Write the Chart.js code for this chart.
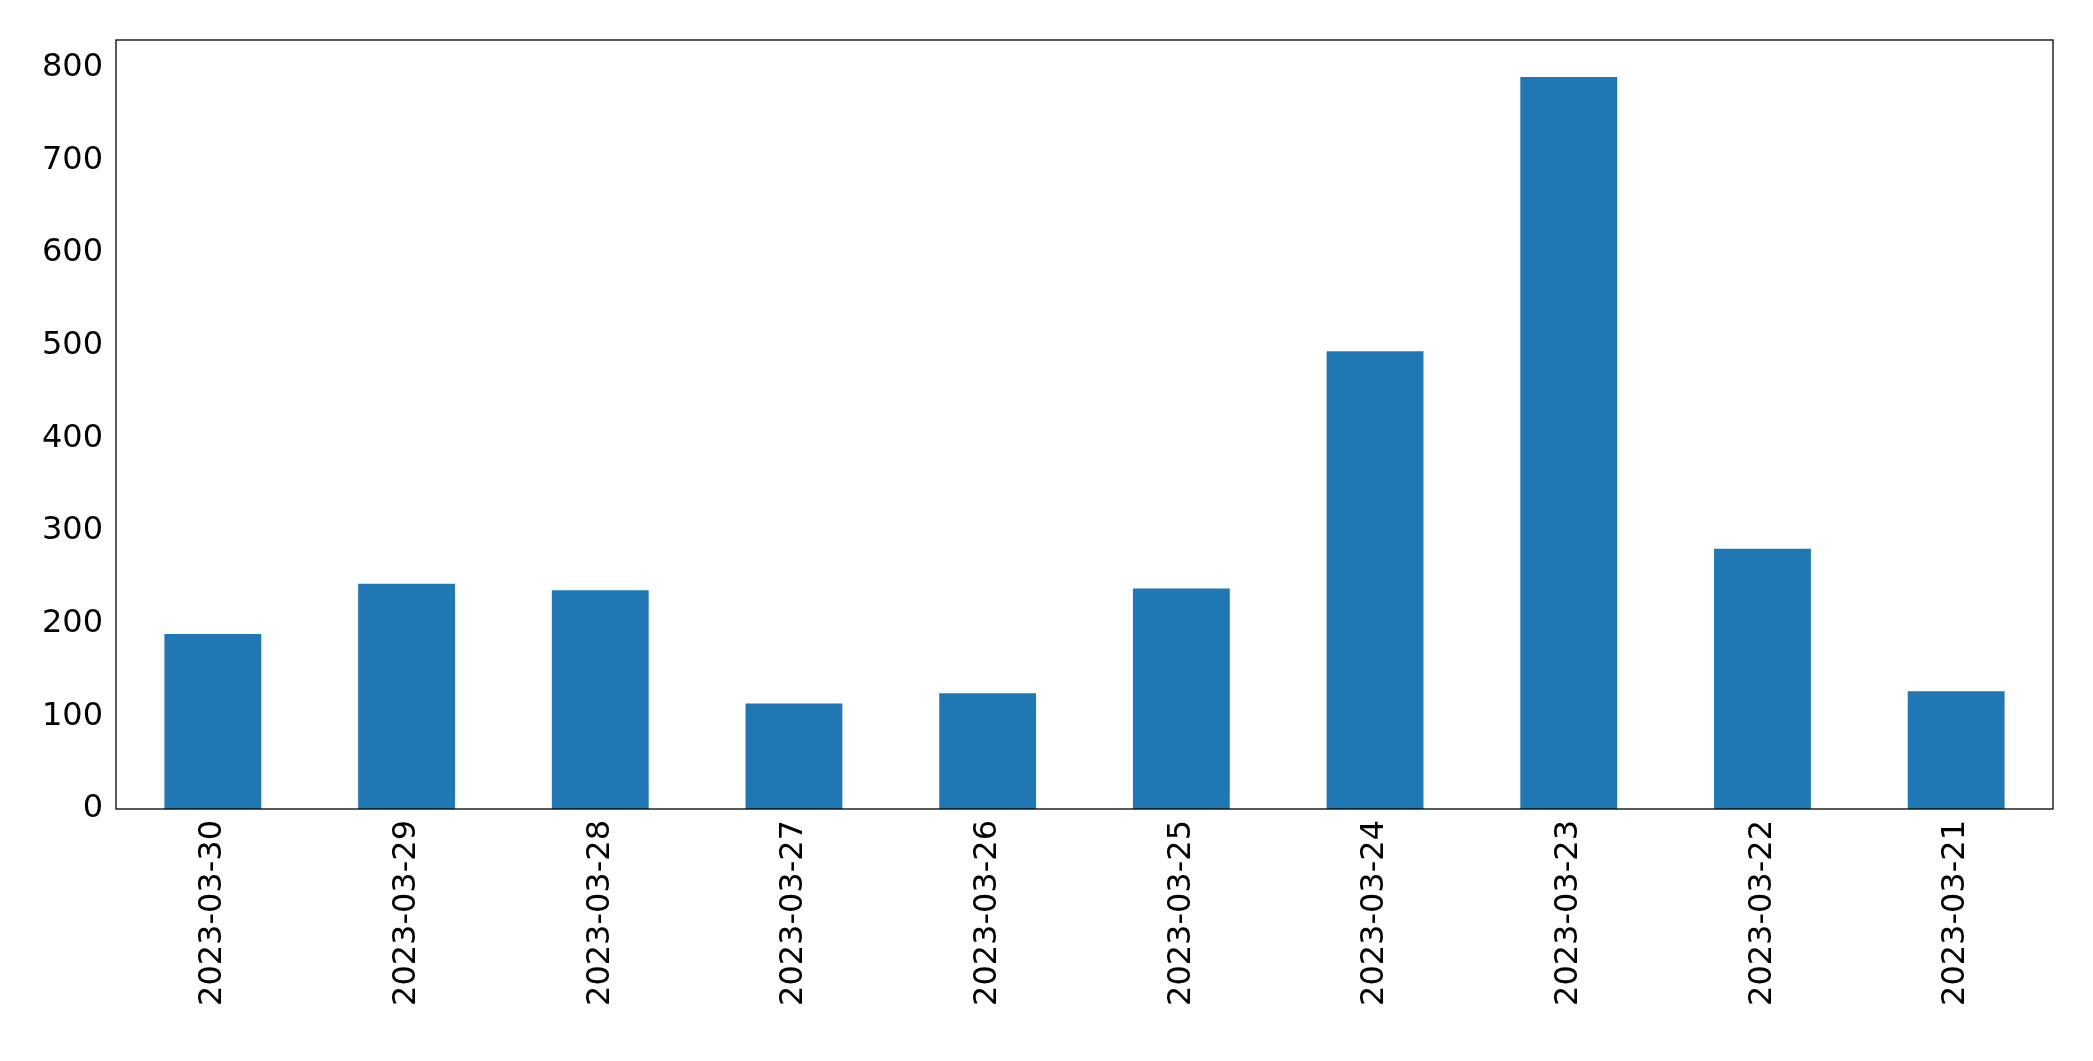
<!DOCTYPE html>
<html>
<head>
<meta charset="utf-8">
<script src="https://cdn.jsdelivr.net/npm/chart.js@4"></script>
<style>
html, body { margin: 0; padding: 0; background: #fff; }
#wrap { width: 2093px; height: 1061px; }
</style>
</head>
<body>
<div id="wrap"><canvas id="barChart"></canvas></div>
<script>
// dates and values
var dayLabels = ["2023-03-30", "2023-03-29", "2023-03-28", "2023-03-27", "2023-03-26",
                 "2023-03-25", "2023-03-24", "2023-03-23", "2023-03-22", "2023-03-21"];
var dayCounts = [189, 243, 236, 114, 125, 238, 494, 790, 281, 127];
var yTicks = [0, 100, 200, 300, 400, 500, 600, 700, 800];

var barColor = "#1f77b4";

// draws the box around the plot area like matplotlib does
var frameBox = {
    id: 'frameBox',
    afterDraw: function (chart) {
        var a = chart.chartArea;
        var c = chart.ctx;
        c.save();
        c.strokeStyle = '#000';
        c.lineWidth = 1.3;
        c.strokeRect(a.left, a.top, a.right - a.left, a.bottom - a.top);
        c.restore();
    }
};

var ctx = document.getElementById('barChart').getContext('2d');
new Chart(ctx, {
    type: 'bar',
    data: {
        labels: dayLabels,
        datasets: [{
            data: dayCounts,
            backgroundColor: barColor,
            categoryPercentage: 1.0,
            barPercentage: 0.5
        }]
    },
    options: {
        responsive: true,
        maintainAspectRatio: false,
        animation: false,
        layout: { padding: { left: 0, right: 40, top: 40, bottom: 0 } },
        plugins: { legend: { display: false }, tooltip: { enabled: false } },
        scales: {
            x: {
                grid: { display: false, drawTicks: true, tickLength: 7, tickColor: '#000' },
                border: { display: false },
                ticks: {
                    color: '#000', maxRotation: 90, minRotation: 90, padding: 4,
                    font: { size: 32, family: 'DejaVu Sans' }
                },
                afterFit: function (s) { s.height = 252; }
            },
            y: {
                min: 0,
                max: 830,
                afterBuildTicks: function (s) {
                    s.ticks = yTicks.map(function (v) { return { value: v }; });
                },
                grid: { display: false, drawTicks: true, tickLength: 7, tickColor: '#000' },
                border: { display: false },
                ticks: {
                    color: '#000', padding: 6,
                    font: { size: 32, family: 'DejaVu Sans' }
                },
                afterFit: function (s) { s.width = 116; }
            }
        }
    },
    plugins: [frameBox]
});
</script>
</body>
</html>
